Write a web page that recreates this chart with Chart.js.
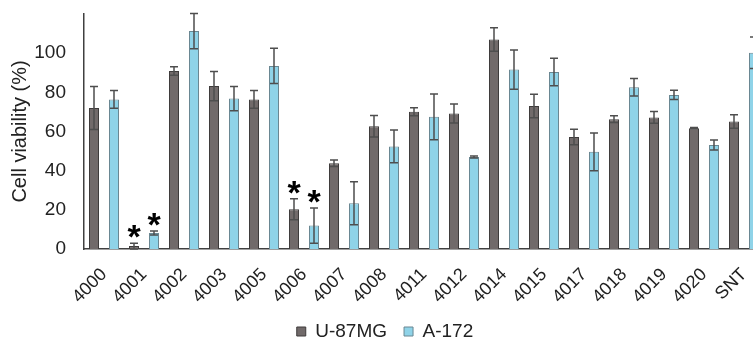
<!DOCTYPE html>
<html>
<head>
<meta charset="utf-8">
<script src="https://cdn.jsdelivr.net/npm/chart.js@4/dist/chart.umd.min.js"></script>
<style>
  html, body { margin: 0; padding: 0; background: #fff; overflow: hidden; }
  #wrap { width: 772px; height: 338px; }
</style>
</head>
<body>
<div id="wrap"><canvas id="chart"></canvas></div>
<script>
const labels = ['4000', '4001', '4002', '4003', '4005', '4006', '4007', '4008', '4011', '4012', '4014', '4015', '4017', '4018', '4019', '4020', 'SNT'];
const u87 = [72, 1.5, 90.9, 83.2, 76.4, 20.3, 43.8, 62.7, 70.1, 69.2, 107, 73, 57.2, 66.3, 67.2, 61.7, 65.1];
const u87Err = [11, 1.5, 2.2, 7.5, 4.5, 5.3, 1.7, 5.5, 2, 4.8, 6, 6, 4, 1.7, 3, 0.3, 3.5];
const a172 = [76.4, 8.2, 111.3, 76.8, 93.5, 12, 23.4, 52.4, 67.5, 47, 91.6, 90.4, 49.6, 82.6, 78.7, 53.1, 100.2];
const a172Err = [4.5, 1, 9, 6.2, 9, 9, 11, 8.4, 11.7, 0.5, 10, 7, 9.6, 4.5, 2.4, 2.6, 8];
const u87Sig = ['4001', '4006'];
const a172Sig = ['4001', '4006'];
const yTicks = [0, 20, 40, 60, 80, 100];

const errors = [u87Err, a172Err];
const stars = [u87Sig, a172Sig];

// error bars + asterisks
const errorBars = {
  id: 'errorBars',
  afterDatasetsDraw(chart) {
    const ctx = chart.ctx;
    const y = chart.scales.y;
    chart.data.datasets.forEach((ds, di) => {
      const meta = chart.getDatasetMeta(di);
      meta.data.forEach((bar, i) => {
        const v = ds.data[i];
        const e = errors[di][i];
        const top = y.getPixelForValue(v + e);
        const bot = y.getPixelForValue(v - e);
        ctx.save();
        ctx.strokeStyle = '#4e4e4e';
        ctx.lineWidth = 1.5;
        ctx.beginPath();
        ctx.moveTo(bar.x, top); ctx.lineTo(bar.x, bot);
        ctx.moveTo(bar.x - 4, top); ctx.lineTo(bar.x + 4, top);
        ctx.moveTo(bar.x - 4, bot); ctx.lineTo(bar.x + 4, bot);
        ctx.stroke();
        if (stars[di].includes(labels[i])) {
          ctx.fillStyle = '#000';
          ctx.font = 'bold 34px "Liberation Sans", Arial, sans-serif';
          ctx.textAlign = 'center';
          ctx.textBaseline = 'alphabetic';
          ctx.fillText('*', bar.x, top + 5);
        }
        ctx.restore();
      });
    });
  }
};

new Chart(document.getElementById('chart'), {
  type: 'bar',
  data: {
    labels: labels,
    datasets: [
      {
        label: 'U-87MG',
        data: u87,
        backgroundColor: '#716a6a',
        borderColor: '#3e3b3b',
        borderWidth: 1,
        categoryPercentage: 1,
        barPercentage: 0.5
      },
      {
        label: 'A-172',
        data: a172,
        backgroundColor: '#8fd3e8',
        borderColor: '#6a8792',
        borderWidth: 1,
        categoryPercentage: 1,
        barPercentage: 0.5
      }
    ]
  },
  options: {
    responsive: true,
    maintainAspectRatio: false,
    animation: false,
    layout: { padding: { top: 14, right: 8, left: 6, bottom: -13 } },
    plugins: {
      legend: {
        position: 'bottom',
        labels: {
          color: '#222',
          font: { size: 19, family: '"Liberation Sans", Arial, sans-serif' },
          boxWidth: 9,
          boxHeight: 9,
          padding: 17
        }
      },
      tooltip: { enabled: false }
    },
    scales: {
      x: {
        grid: { display: false, drawTicks: false },
        border: { display: true, color: '#404040', width: 1.5 },
        ticks: {
          color: '#222',
          font: { size: 18, family: '"Liberation Sans", Arial, sans-serif' },
          minRotation: 45,
          maxRotation: 45,
          autoSkip: false,
          padding: 15
        },
        afterFit: s => { s.height = 56; s.paddingLeft = 0; s.paddingRight = 0; }
      },
      y: {
        min: 0,
        max: 120,
        afterBuildTicks: s => { s.ticks = yTicks.map(v => ({ value: v })); },
        grid: { display: false, drawTicks: false },
        border: { display: true, color: '#404040', width: 1.5 },
        ticks: {
          color: '#222',
          font: { size: 19, family: '"Liberation Sans", Arial, sans-serif' },
          padding: 18
        },
        title: {
          display: true,
          text: 'Cell viability (%)',
          color: '#222',
          font: { size: 20, family: '"Liberation Sans", Arial, sans-serif' },
          padding: { top: 2, bottom: 0 }
        },
        afterFit: s => { s.width = 78; s.paddingTop = 0; s.paddingBottom = 0; }
      }
    }
  },
  plugins: [errorBars]
});
</script>
</body>
</html>
